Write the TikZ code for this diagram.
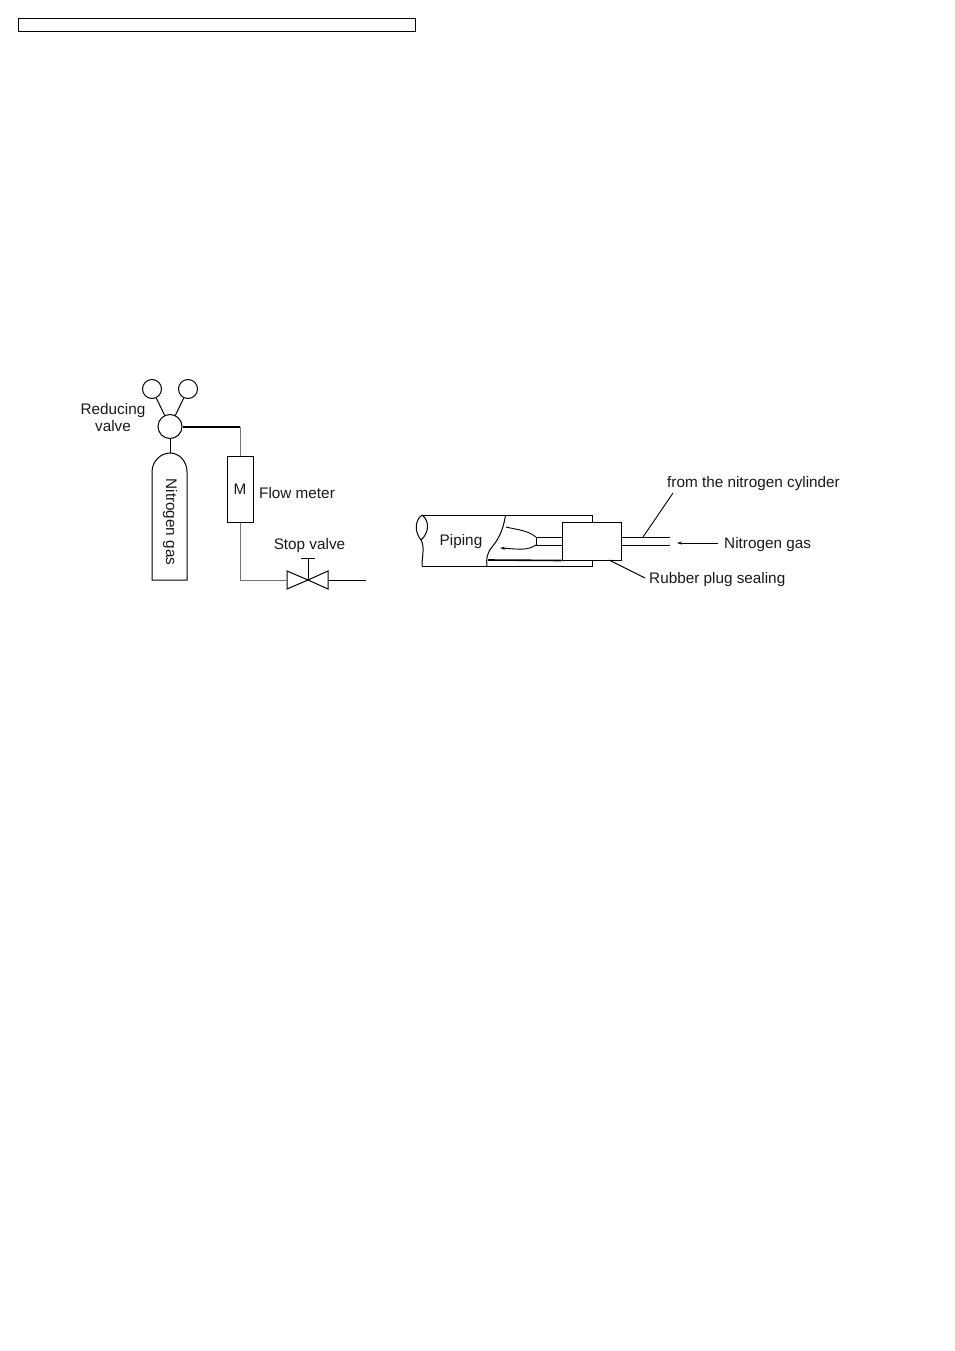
\documentclass[tikz,border=0pt]{standalone}
\usepackage{fontspec}
\setmainfont{Liberation Sans}
\usetikzlibrary{arrows.meta}
\tikzset{
    lbl/.style={inner sep=0pt, font=\fontsize{15.3}{17}\selectfont, text=black!90},
    gauge/.style={draw, circle, inner sep=0pt, minimum size=#1, line width=1pt},
    pipe/.style={line width=1pt},
    thinpipe/.style={line width=1pt, color=black!55},
    leader/.style={line width=0.9pt}
}
\begin{document}
\begin{tikzpicture}[x=1pt, y=-1pt]
    \useasboundingbox (0,0) rectangle (954,1351);
    \draw[line width=1pt] (18.5,19) rectangle (415.5,32);
    % cylinder and regulator
    \node[gauge=19pt] (gaugeL) at (152,389) {};
    \node[gauge=19pt] (gaugeR) at (188,389) {};
    \node[gauge=24pt] (regvalve) at (170,426.5) {};
    \coordinate (cyltop) at (170,453);
    \coordinate (elbowT) at (240,426.5);
    \coordinate (elbowB) at (240,580);
    \draw[pipe] (152,580) -- (152,472) .. controls (152,461) and (161,453) .. (cyltop)
        .. controls (179,453) and (187,461) .. (187,472) -- (187,580) -- cycle;
    \draw[pipe] (gaugeL) -- (regvalve);
    \draw[pipe] (gaugeR) -- (regvalve);
    \draw[pipe] (regvalve) -- (cyltop);
    \draw[line width=2pt] (regvalve) -- (elbowT);
    \node[draw, pipe, minimum width=26pt, minimum height=66pt, inner sep=0pt, lbl] (meter) at (240,489) {M};
    \draw[thinpipe] (elbowT) -- (meter);
    \draw[thinpipe] (meter) -- (elbowB);
    % stop valve
    \coordinate (stopC) at (308,580);
    \coordinate (stopL) at (287,580);
    \coordinate (stopR) at (328,580);
    \coordinate (stopT) at (308,558);
    \coordinate (pipeEnd) at (366,580);
    \draw[pipe] (287,571) -- (stopC) -- (287,589) -- cycle;
    \draw[pipe] (328,571) -- (stopC) -- (328,589) -- cycle;
    \draw[pipe] (stopC) -- (stopT);
    \draw[pipe] (301,558) -- (315,558);
    \draw[thinpipe] (elbowB) -- (stopL);
    \draw[pipe] (stopR) -- (pipeEnd);
    \node[lbl] (reducing) at (113,411) {Reducing};
    \node[lbl] (valve) at (113,426.5) {valve};
    \node[lbl, rotate=-90] (nitro) at (170,522) {Nitrogen gas};
    \node[lbl, anchor=west] (flow) at (259,493.5) {Flow meter};
    \node[lbl] (stop) at (309.5,545.5) {Stop valve};
    % piping with rubber plug
    \node[draw, pipe, minimum width=59pt, minimum height=38pt, inner sep=0pt] (plug) at (591.5,541) {};
    \coordinate (tubeAL) at (536,537);
    \coordinate (tubeBL) at (536,545);
    \coordinate (tubeAM) at (562,537);
    \coordinate (tubeBM) at (562,545);
    \coordinate (tubeAP) at (621,537);
    \coordinate (tubeBP) at (621,545);
    \coordinate (tubeAR) at (670,537);
    \coordinate (tubeBR) at (670,545);
    \draw[pipe] (422,515) -- (592,515) -- (592,522);
    \draw[pipe] (422,566) -- (592,566) -- (592,560);
    \draw[pipe] (422,515) .. controls (414,521) and (415,533) .. (421,540)
        .. controls (425,547) and (422,556) .. (422,566);
    \draw[pipe] (422,515) .. controls (430,521) and (429,533) .. (421,540);
    \draw[pipe] (505.5,515) .. controls (503,532) and (497,541) .. (492,547)
        .. controls (487,553) and (486,559) .. (487,566);
    \draw[line width=1.6pt] (488,560) -- (plug.south west);
    \draw[pipe] (tubeAL) -- (tubeAM);
    \draw[pipe] (tubeBL) -- (tubeBM);
    \draw[pipe] (tubeAL) -- (tubeBL);
    \draw[pipe] (tubeAP) -- (tubeAR);
    \draw[pipe] (tubeBP) -- (tubeBR);
    \draw[leader] (tubeAL) .. controls (527,530) and (518,530) .. (506,527);
    \draw[leader, -{Stealth[length=5pt,width=3pt]}] (tubeBL) .. controls (527,551) and (518,549) .. (500,548);
    \node[lbl] (piping) at (461,542) {Piping};
    \node[lbl, anchor=west] (fromcyl) at (667,484) {from the nitrogen cylinder};
    \node[lbl, anchor=west] (gas) at (724,544.5) {Nitrogen gas};
    \node[lbl, anchor=west] (rubber) at (649,580) {Rubber plug sealing};
    \coordinate (fromEnd) at (643,537);
    \coordinate (gasTip) at (677,543);
    \coordinate (rubberEnd) at (609,560);
    \draw[leader] (673,493) -- (fromEnd);
    \draw[leader, -{Stealth[length=5pt,width=3pt]}] (718,543) -- (gasTip);
    \draw[leader] (645,578) -- (rubberEnd);
\end{tikzpicture}
\end{document}
